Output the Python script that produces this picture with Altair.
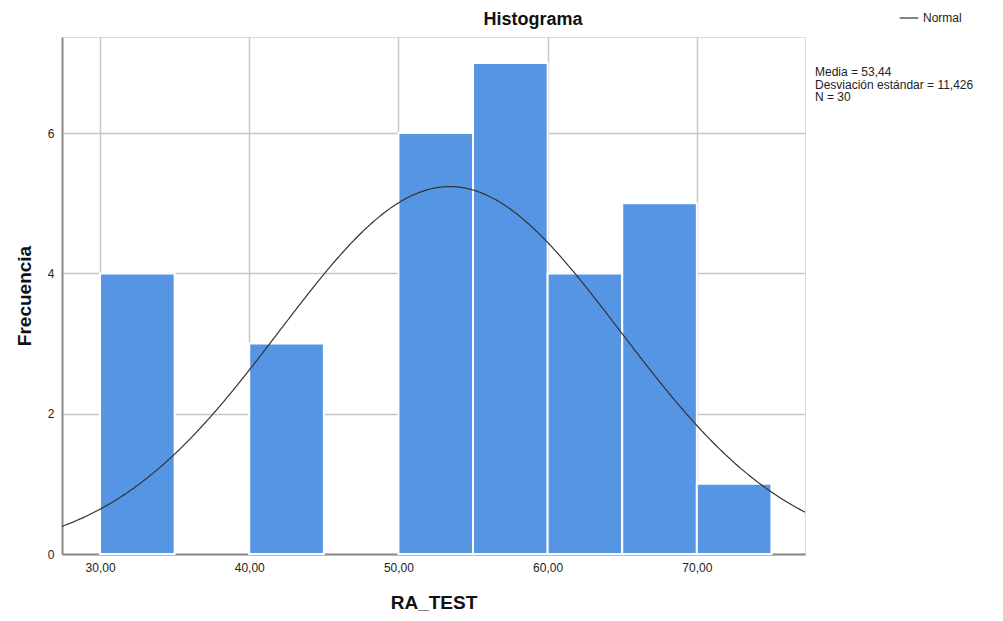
import altair as alt
import pandas as pd

# Histogram bins (lower edges) and frequencies
bin_start = [30, 35, 40, 45, 50, 55, 60, 65, 70]
bin_width = 5
counts = [4, 0, 3, 0, 6, 7, 4, 5, 1]

# Summary statistics shown in the chart
media = 53.44
desv = 11.426
n_total = 30

x_ticks = [30, 40, 50, 60, 70]
y_ticks = [0, 2, 4, 6]
x_domain = [27.45, 77.25]
y_domain = [0, 7.37]

stats_lines = ["Media = 53,44", "Desviación estándar = 11,426", "N = 30"]
chart_title = "Histograma"

FONT = "Liberation Sans"
BAR = "#5595e4"
GRID = "#c8c8c8"

hist_df = pd.DataFrame({
    "start": bin_start,
    "end": [b + bin_width for b in bin_start],
    "count": counts,
})
hist_df = hist_df[hist_df["count"] > 0]

x_scale = alt.Scale(domain=x_domain, nice=False, zero=False)
y_scale = alt.Scale(domain=y_domain, nice=False)

x_axis = alt.Axis(
    values=x_ticks, title="RA_TEST", grid=True, gridColor=GRID, gridWidth=1.5,
    ticks=False, domainColor="#8a8a8a", domainWidth=2,
    labelExpr="replace(format(datum.value, '.2f'), '.', ',')",
    labelFont=FONT, labelFontSize=12, labelColor="#222222", labelPadding=8,
    titleFont=FONT, titleFontSize=19, titleFontWeight="bold", titleColor="#111111",
    titlePadding=20,
)
y_axis = alt.Axis(
    values=y_ticks, title="Frecuencia", grid=True, gridColor=GRID, gridWidth=1.5,
    ticks=False, domainColor="#8a8a8a", domainWidth=2, format="d",
    labelFont=FONT, labelFontSize=12, labelColor="#222222", labelPadding=8,
    titleFont=FONT, titleFontSize=19, titleFontWeight="bold", titleColor="#111111",
    titlePadding=13,
)

bars = alt.Chart(hist_df).mark_rect(
    color=BAR, stroke="white", strokeWidth=2
).encode(
    x=alt.X("start:Q", scale=x_scale, axis=x_axis),
    x2="end:Q",
    y=alt.Y("count:Q", scale=y_scale, axis=y_axis),
    y2=alt.datum(0),
)

curve = alt.Chart(alt.sequence(27.0, 77.8, 0.1, as_="x")).transform_calculate(
    y=f"{n_total}*{bin_width}/({desv}*sqrt(2*PI))*exp(-0.5*pow((datum.x-{media})/{desv},2))",
    serie="'Normal'",
).mark_line(color="#222222", strokeWidth=1.2, clip=True).encode(
    x=alt.X("x:Q", scale=x_scale),
    y=alt.Y("y:Q", scale=y_scale, axis=y_axis),
    color=alt.Color(
        "serie:N",
        scale=alt.Scale(range=["#333333"]),
        legend=alt.Legend(
            title=None, orient="none", legendX=837, legendY=-29,
            symbolType="stroke", symbolStrokeWidth=1.2, symbolSize=350,
            labelFont=FONT, labelFontSize=12, labelColor="#222222",
        ),
    ),
)

stats = alt.Chart(pd.DataFrame({"k": [0]})).mark_text(
    align="left", baseline="top", font=FONT, fontSize=12, color="#222222",
    lineHeight=12.5,
).encode(
    text=alt.value(stats_lines),
    x=alt.value(753),
    y=alt.value(30),
)

title = alt.Chart(pd.DataFrame({"k": [0]})).mark_text(
    align="center", baseline="middle", font=FONT, fontSize=18, fontWeight="bold",
    color="#111111",
).encode(
    text=alt.value(chart_title),
    x=alt.value(471),
    y=alt.value(-17),
)

chart = alt.layer(bars, curve, stats, title).properties(
    width=743,
    height=517,
    autosize=alt.AutoSizeParams(type="none"),
    padding={"left": 62, "top": 37, "right": 198, "bottom": 67},
).configure_view(stroke=None).configure(background="white")

chart.save("out.html", embed_options={"renderer": "svg", "actions": False})
